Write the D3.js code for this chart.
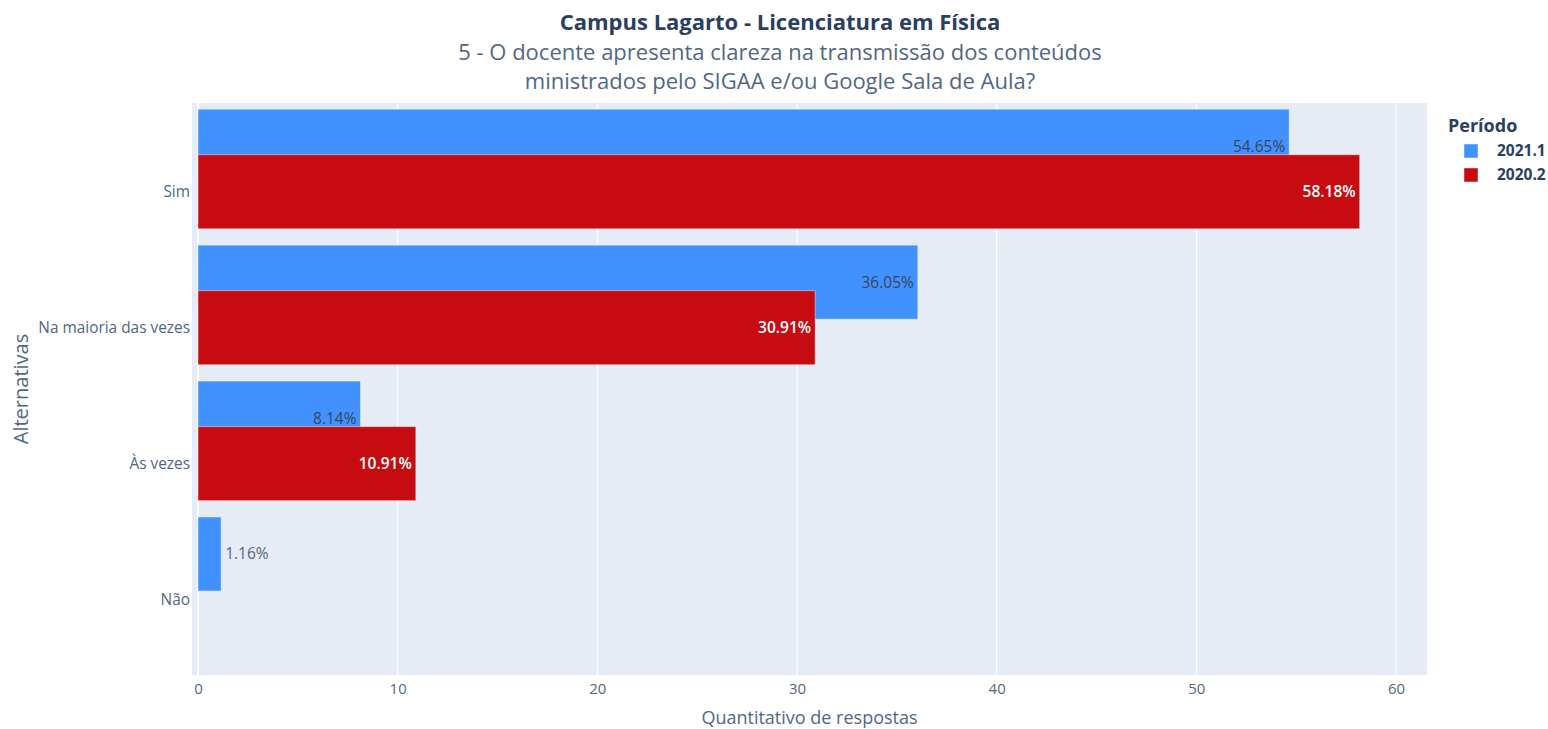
<!DOCTYPE html>
<html>
<head>
<meta charset="utf-8">
<script src="https://cdn.jsdelivr.net/npm/d3@7"></script>
<style>
  body { margin: 0; background: #fff; }
  svg { font-family: "Open Sans", sans-serif; display: block; }
</style>
</head>
<body>
<svg width="1548" height="729"></svg>
<script>
var categories = ["Sim", "Na maioria das vezes", "Às vezes", "Não"];
var periods = ["2021.1", "2020.2"];
var values2021 = [54.65, 36.05, 8.14, 1.16];
var values2020 = [58.18, 30.91, 10.91, 0];
var xTicks = [0, 10, 20, 30, 40, 50, 60];

var svg = d3.select("svg"),
    plot = {left: 192, right: 1427, top: 103, bottom: 675};

var colors = {"2021.1": "#4192ff", "2020.2": "#c70c11"};

var x = d3.scaleLinear().domain([-0.3, 61.55]).range([plot.left, plot.right]);
// category index -> y, continuous so bars can be offset within a band
var y = d3.scaleLinear().domain([-0.653, 3.555]).range([plot.top, plot.bottom]);

var barH = 0.545, blueShift = -0.335;

var series = [
  {name: "2021.1", values: values2021, shift: blueShift, textColor: "#3b4556", weight: "normal"},
  {name: "2020.2", values: values2020, shift: 0, textColor: "#ffffff", weight: "600"}
];

svg.append("rect")
    .attr("x", plot.left).attr("y", plot.top)
    .attr("width", plot.right - plot.left).attr("height", plot.bottom - plot.top)
    .attr("fill", "#e5ecf6");

// grid
svg.append("g").selectAll("line")
    .data(xTicks)
    .enter().append("line")
      .attr("x1", function(d) { return x(d); })
      .attr("x2", function(d) { return x(d); })
      .attr("y1", plot.top).attr("y2", plot.bottom)
      .attr("stroke", "#fff")
      .attr("stroke-width", function(d) { return d === 0 ? 2 : 1; });

// x axis
var xAxis = svg.append("g")
    .attr("transform", "translate(0," + plot.bottom + ")")
    .call(d3.axisBottom(x).tickValues(xTicks).tickSize(0).tickPadding(8));
xAxis.select(".domain").remove();
xAxis.selectAll("text")
    .attr("font-family", "Open Sans").attr("font-size", 15).attr("fill", "#506784");

// y axis
var yAxis = svg.append("g")
    .attr("transform", "translate(" + plot.left + ",0)")
    .call(d3.axisLeft(y).tickValues([0, 1, 2, 3])
      .tickFormat(function(i) { return categories[i]; })
      .tickSize(0).tickPadding(2));
yAxis.select(".domain").remove();
yAxis.selectAll("text")
    .attr("font-family", "Open Sans").attr("font-size", 15.4).attr("fill", "#506784");

// bars and labels, one trace after the other
series.forEach(function(s) {
  var g = svg.append("g");
  var data = s.values.map(function(v, i) { return {v: v, i: i}; })
      .filter(function(d) { return d.v > 0; });

  g.selectAll("rect")
    .data(data)
    .enter().append("rect")
      .attr("x", x(0))
      .attr("y", function(d) { return y(d.i + s.shift - barH / 2); })
      .attr("width", function(d) { return x(d.v) - x(0); })
      .attr("height", y(barH) - y(0))
      .attr("fill", colors[s.name])
      .attr("stroke", "rgba(255,255,255,0.45)")
      .attr("stroke-width", 1);

  g.selectAll("text")
    .data(data)
    .enter().append("text")
      .attr("x", function(d) {
        var w = x(d.v) - x(0);
        return w > 60 ? x(d.v) - 4 : x(d.v) + 4;
      })
      .attr("y", function(d) { return y(d.i + s.shift); })
      .attr("dy", "0.35em")
      .attr("text-anchor", function(d) { return x(d.v) - x(0) > 60 ? "end" : "start"; })
      .attr("font-size", 15.5)
      .attr("font-weight", s.weight)
      .attr("fill", function(d) { return x(d.v) - x(0) > 60 ? s.textColor : "#506784"; })
      .text(function(d) { return d.v.toFixed(2) + "%"; });
});

// titles
svg.append("text")
    .attr("x", 780).attr("y", 30)
    .attr("text-anchor", "middle")
    .attr("font-size", 22).attr("font-weight", "bold").attr("fill", "#2a3f5f")
    .text("Campus Lagarto - Licenciatura em Física");
svg.append("text")
    .attr("x", 780).attr("y", 60)
    .attr("text-anchor", "middle")
    .attr("font-size", 22).attr("fill", "#506784")
    .text("5 - O docente apresenta clareza na transmissão dos conteúdos");
svg.append("text")
    .attr("x", 780).attr("y", 89)
    .attr("text-anchor", "middle")
    .attr("font-size", 22).attr("fill", "#506784")
    .text("ministrados pelo SIGAA e/ou Google Sala de Aula?");

svg.append("text")
    .attr("x", (plot.left + plot.right) / 2).attr("y", 724)
    .attr("text-anchor", "middle")
    .attr("font-size", 18).attr("fill", "#506784")
    .text("Quantitativo de respostas");

svg.append("text")
    .attr("transform", "translate(28," + ((plot.top + plot.bottom) / 2) + ") rotate(-90)")
    .attr("text-anchor", "middle")
    .attr("font-size", 20).attr("fill", "#506784")
    .text("Alternativas");

// legend
var legend = svg.append("g").attr("transform", "translate(1448,0)");
legend.append("text")
    .attr("x", 0).attr("y", 132)
    .attr("font-size", 18).attr("font-weight", "bold").attr("fill", "#2a3f5f")
    .text("Período");
var item = legend.selectAll("g.item")
    .data(periods)
    .enter().append("g")
      .attr("class", "item")
      .attr("transform", function(d, i) { return "translate(0," + (151 + i * 24) + ")"; });
item.append("rect")
    .attr("x", 16).attr("y", -7).attr("width", 14).attr("height", 14)
    .attr("fill", function(d) { return colors[d]; })
    .attr("stroke", "rgba(255,255,255,0.45)");
item.append("text")
    .attr("x", 49).attr("dy", "0.35em")
    .attr("font-size", 15.5).attr("font-weight", "bold").attr("fill", "#2a3f5f")
    .text(function(d) { return d; });
</script>
</body>
</html>
